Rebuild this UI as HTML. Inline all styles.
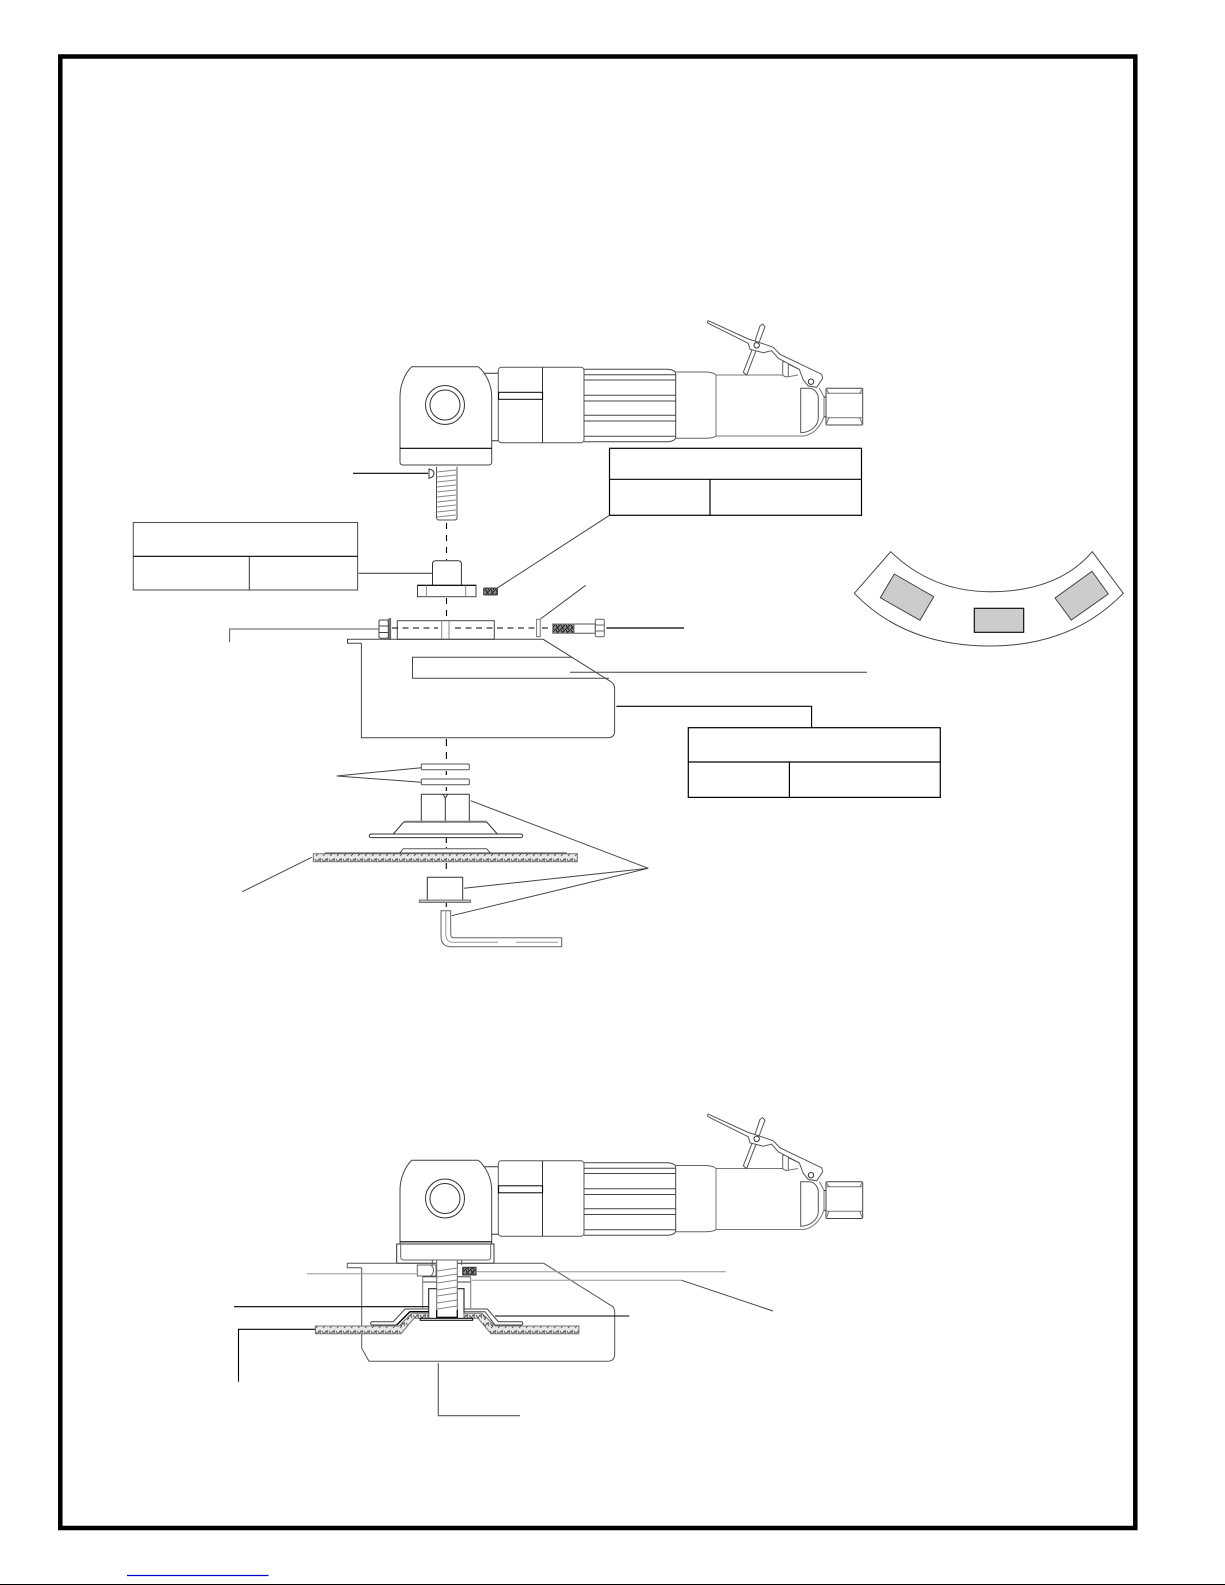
<!DOCTYPE html>
<html><head><meta charset="utf-8"><title>Diagram</title>
<style>html,body{margin:0;padding:0;background:#fff}svg{display:block}</style></head>
<body>
<svg xmlns="http://www.w3.org/2000/svg" width="1225" height="1585" viewBox="0 0 1225 1585">
<defs>
<pattern id="sp" width="7" height="8" patternUnits="userSpaceOnUse" patternTransform="translate(0,1)">
<rect width="7" height="8" fill="#e8e8e8"/>
<path d="M0 2l2 3 2-3 2 3M1 7l2-2M5 1l1 2" fill="none" stroke="#444" stroke-width=".8"/>
</pattern>
<pattern id="dk" width="5" height="5" patternUnits="userSpaceOnUse">
<rect width="5" height="5" fill="#888"/>
<path d="M0 5L5 0M1 0l3 5" stroke="#222" stroke-width="1"/>
</pattern>
<g id="tool" fill="none" stroke="#333" stroke-width="1">
<path d="M483 373.300H498.300M489 440.700H498.300"/>
<path d="M400 396.700C400 385 405 373 411.700 366.700H478.300C486 373 491.700 385 491.700 396.700V462Q491.700 465 488.700 465H403Q400 465 400 462Z" fill="#fff" stroke="#444"/>
<path d="M400 448.300H491.700" stroke="#000" stroke-width="1.200"/>
<circle cx="445" cy="405" r="19.500"/><circle cx="445" cy="405" r="15"/>
<rect x="498.300" y="367.300" width="85.700" height="75.400" rx="3" fill="#fff" stroke="#555"/>
<path d="M542.500 367.300V442.700"/>
<rect x="498.600" y="392.300" width="44" height="7" stroke="#000"/>
<path d="M584 369.300H668Q675.700 370 675.700 374V437Q675.700 441 668 441.700H584" stroke="#444"/>
<path d="M584 374.700H675.700M584 380H675.700M584 395.300H675.700M584 401H675.700M584 415.300H675.700M584 421H675.700M584 436.300H675.700" stroke="#444"/>
<path d="M675.700 372H706Q714 372.500 716 375V436Q714 438 706 438.300H675.700" stroke="#666"/>
<path d="M716 375H782.700M788.300 376.700L798 375M716 375V436H803.300C812 435 820 428 824 416.700V396.700L819.300 388.300" stroke="#777"/>
<path d="M800.700 388.300H810C815 389 818.300 394 818.300 398.300V418C818.300 426 810 432.700 800.700 432.700Z" stroke="#555" fill="#fff"/>
<path d="M782.700 361.700H788.300V376.700Q785 377.500 782.700 375Z" fill="#fff" stroke="#666"/>
<path d="M788.300 364L799 369.300" stroke="#555"/>
<path d="M760 326L762.700 324 765 326.700 757 348 746.700 375 743.300 372.300 751.700 350.700Z" fill="#fff" stroke="#555"/>
<path d="M708.300 320.700L748.300 339 758 342 773.300 347.300 780 354.300 821.700 374.300 822.700 378.300 816.700 387.300 808.300 386 803.300 380 799.300 369.300 778.300 358.300 771.700 350.700 763.300 352.700 750 349.300 748.300 343.300 708.300 323.300Q706.500 322 708.300 320.700Z" fill="#fff" stroke="#555"/>
<circle cx="756.700" cy="345.300" r="2.700"/>
<circle cx="811" cy="381.700" r="2.700"/>
<path d="M824 397H826V416.700H824"/>
<rect x="826" y="388.300" width="36.700" height="36.700" rx="1" stroke="#444" fill="#fff"/>
<path d="M826 393.300H862.700M826 417.700H862.700M826 388.500L829 393.300M862.700 388.500L859.700 393.300M826 425L829 417.700M862.700 425L859.700 417.700" stroke="#777"/>
</g>
</defs>
<rect width="1225" height="1585" fill="#fff"/>
<rect x="60.300" y="56.500" width="1075" height="1471.500" fill="none" stroke="#000" stroke-width="4.500"/>
<path d="M127 1575.500H268.500" stroke="#0000cc" stroke-width="1.300"/>
<path d="M0 1584.500H1225" stroke="#000" stroke-width="1"/>

<use href="#tool"/>
<use href="#tool" transform="translate(0,793.500)"/>

<g fill="none" stroke="#333" stroke-width="1">
<!-- spindle upper -->
<path d="M436.500 466.700V518Q437 520 439 520H454Q457 520 457 518V466.700" stroke="#555"/>
<path d="M437 472L456 470M437 477L456 475M437 482L456 480M437 487L456 485M437 492L456 490M437 497L456 495M437 502L456 500M437 507L456 505M437 512L456 510M437 517L456 515" stroke="#888"/>
<path d="M429 469V478.300Q434 477 434 473.600Q434 470 429 469Z"/>
<path d="M353 473.300H428" stroke="#000" stroke-width="1.200"/>
<!-- tables -->
<rect x="609.500" y="448.300" width="252" height="67" stroke="#000" stroke-width="1.200"/>
<path d="M609.500 479.300H861.500M710 479.300V515.300" stroke="#000" stroke-width="1.200"/>
<path d="M609.500 515.300L496.800 588.300" stroke="#444"/>
<rect x="133.300" y="522.500" width="224.300" height="67.500" stroke="#555" stroke-width="1.100"/>
<path d="M133.300 556.300H357.600" stroke="#000" stroke-width="1.200"/>
<path d="M249.300 556.300V590"/>
<path d="M358.600 573.300H432.500"/>
<rect x="688.300" y="727.700" width="252" height="69.700" stroke="#000" stroke-width="1.200"/>
<path d="M688.300 762H940.300M789.400 762V797.400" stroke="#000" stroke-width="1.200"/>
<!-- hub -->
<path d="M432.500 585.300V564Q432.500 560.700 436 560.700H458Q461.400 560.700 461.400 564V585.300"/>
<rect x="417.500" y="585.300" width="58.500" height="11.400" stroke="#444"/>
<path d="M417.500 585.300H476" stroke="#000" stroke-width="1.200"/>
<path d="M426.400 585.300V596.700M465.700 585.300V596.700" stroke="#888"/>
<rect x="483.600" y="588" width="13.900" height="7" rx="1" fill="url(#dk)" stroke="#444"/>
<!-- clamp -->
<rect x="397.300" y="620.700" width="97" height="18.600" stroke="#444"/>
<path d="M441.700 620.700V639.300M449 620.700V639.300" stroke="#888"/>
<path d="M392 628H438M455 628H536M542 628H550" stroke="#000" stroke-dasharray="6 4.500"/>
<rect x="379" y="620" width="9.300" height="18.300" rx="1.500" stroke="#444"/>
<path d="M379 626H388.300M379 632.500H388.300" stroke="#444"/>
<rect x="388.600" y="618.500" width="2.200" height="21" fill="#777" stroke="#555" stroke-width=".6"/>
<path d="M379 629H229.600V642.300" stroke="#555"/>
<rect x="536.600" y="619.300" width="3.600" height="17.400" stroke="#777"/>
<path d="M540.400 619L585.700 585.300" stroke="#444"/>
<rect x="552.700" y="624" width="21.300" height="9.300" fill="url(#dk)" stroke="#777"/>
<path d="M574 624H595.300V633.300H574" stroke="#555"/>
<rect x="595.300" y="619.300" width="9" height="17.400" rx="1.500" stroke="#666"/>
<path d="M595.300 625H604.300M595.300 631H604.300" stroke="#666"/>
<path d="M606.400 628H684" stroke="#000" stroke-width="1.200"/>
<!-- guard -->
<path d="M361.400 643.300H347.500V639.300H543.200L609.300 680.700Q614.600 683 614.600 688.500V731.500Q614.600 737.700 607.500 737.700H361.400V643.300" stroke="#444"/>
<path d="M571.800 657.300H412.500V678.300H609" stroke="#444"/>
<path d="M570 672.300H867" stroke="#444"/>
<path d="M616.400 706.300H811.600V727.700" stroke="#000" stroke-width="1.100"/>
<!-- center dashes -->
<path d="M446.500 523V560" stroke="#000" stroke-width="1.100" stroke-dasharray="6 6"/>
<path d="M446.500 598V620" stroke="#000" stroke-width="1.100" stroke-dasharray="6 6"/>
<path d="M446.400 739V760" stroke="#000" stroke-width="1.100" stroke-dasharray="7 6"/>
<path d="M446.300 771V775M446.300 787V791M446.300 838V843M446.300 847V848M446.300 863V869M446.300 903V907" stroke="#000" stroke-width="1.100"/>
<!-- washers -->
<rect x="421.300" y="764" width="48" height="5.700" rx="1" stroke="#555"/>
<rect x="421.300" y="779" width="48" height="5.700" rx="1" stroke="#555"/>
<path d="M421.300 767.700L336.700 776L421.300 782.300" stroke="#444"/>
<!-- nut flange -->
<path d="M421.300 821V794.300H469.300V821M445.300 798V821M443 794.300L445.300 798L447.700 794.300"/>
<path d="M403.700 821.700H486.700" stroke="#777" stroke-width="2"/>
<path d="M403.700 822L393.300 834M486.700 822L497.300 834"/>
<rect x="369.300" y="834" width="153.400" height="3.600" rx="1.800"/>
<path d="M400 852.700L403.300 848.700H486.700L490 852.700" stroke="#555"/>
<path d="M325 853.200H566.700" stroke="#000" stroke-width="1.100"/>
<rect x="313.300" y="853.700" width="264" height="8" fill="url(#sp)" stroke="#777"/>
<path d="M311.700 857.300L242.300 891.700" stroke="#444"/>
<!-- lower hub -->
<path d="M427.300 900V877.300H462.700V900"/>
<rect x="419.300" y="900" width="51.400" height="2.600" fill="#bbb" stroke="#666" stroke-width=".8"/>
<path d="M470.700 800.700L648.300 868.300L464 888.300M648.300 868.300L451.700 915.700" stroke="#444"/>
<!-- hex key -->
<path d="M441 910.700V936Q441 946.700 451 946.700H561.700V937.700H453Q450.700 937.700 450.700 933V910.700Z" stroke="#666"/>
<path d="M445.800 910.700V934Q446 942.300 453 942.300H498M516 942.300H558" stroke="#999"/>
<!-- arc part -->
<path d="M890.700 551.700Q932 591.700 990 591.700Q1058 591.700 1092.300 551.700L1123.300 593.300Q1072 646 990 646Q905 646 854.300 593.300Z" stroke="#444"/>
<path d="M894.300 574L933.700 596.700L920 620.300L880.300 597.700Z" fill="#ccc" stroke="#444"/>
<path d="M1092 571.300L1108.300 594L1071.300 620L1055 598Z" fill="#ccc" stroke="#444"/>
<rect x="974.300" y="608.300" width="49.400" height="24" fill="#ccc" stroke="#000" stroke-width="1.100"/>

<!-- lower assembly -->
<rect x="396.700" y="1244" width="97.300" height="19.300" stroke="#333" fill="#fff"/>
<path d="M400.700 1244V1257Q400.700 1260 404 1260H487.500Q490.700 1260 490.700 1257V1244" stroke="#666"/>
<path d="M361.700 1267.700H347.300V1263.300H543.700L610.300 1305Q614.700 1307 614.700 1312V1354Q614.700 1361.300 607.300 1361.300H369L361.700 1348.300V1267.700" stroke="#555"/>
<path d="M432.300 1260V1265M461.700 1260V1265" stroke="#555"/>
<rect x="417.300" y="1265" width="18.700" height="11" stroke="#666" fill="#fff"/>
<path d="M431 1265Q436 1270 431 1276" stroke="#666"/>
<rect x="462.700" y="1267.300" width="13.300" height="7.700" fill="url(#dk)" stroke="#333"/>
<path d="M422.700 1276.700H470.700M422.700 1282H470.700" stroke="#444"/>
<path d="M422.700 1276.700V1308.300M470.700 1276.700V1308.300" stroke="#777"/>
<path d="M428.700 1318.300V1288.700H464V1318.300" stroke="#222" stroke-width="1.100"/>
<rect x="436.700" y="1260" width="20.600" height="57.300" stroke="#666" fill="#fff"/>
<path d="M437 1271L457 1268M437 1277L457 1274M437 1283L457 1280M437 1290L457 1287M437 1296L457 1293M437 1303L457 1300M437 1309L457 1306" stroke="#888"/>
<path d="M436.700 1310V1317.300H457.300V1310" stroke="#000" stroke-width="1.200"/>
<path d="M371.700 1321.700H393.300L405 1309H428.300M464 1309H487.300L498.300 1321.700H521.700Q524 1323.300 521.700 1325H495L485 1311.700H464M371.700 1321.700Q369.500 1323.300 371.700 1325H396.700" stroke="#444"/>
<path d="M396.700 1325L410 1311.700H428.300" stroke="#000" stroke-width="1.400"/>
<path d="M315.400 1326H399L411.700 1313.300H428.300V1318.300H414L401 1333.700H315.400Z" fill="url(#sp)" stroke="#777"/>
<path d="M464 1313.300H482L495 1326H578.900V1333.700H491L478 1318.300H464Z" fill="url(#sp)" stroke="#777"/>
<rect x="420.200" y="1318.300" width="52.500" height="2" stroke="#000" fill="#fff"/>
<path d="M307 1273.700H417.200M476.400 1271.700H726" stroke="#999"/>
<path d="M471.600 1280.300H681.700" stroke="#999"/>
<path d="M681.700 1280.300L773 1311" stroke="#444"/>
<path d="M234 1306.700H428.300M495 1316H629.200" stroke="#000" stroke-width="1.100"/>
<path d="M315.400 1329.300H238.500V1381.700" stroke="#000" stroke-width="1.100"/>
<path d="M438.300 1363.300V1415.700H520" stroke="#555" stroke-width="1.100"/>
</g>
</svg>
</body></html>
